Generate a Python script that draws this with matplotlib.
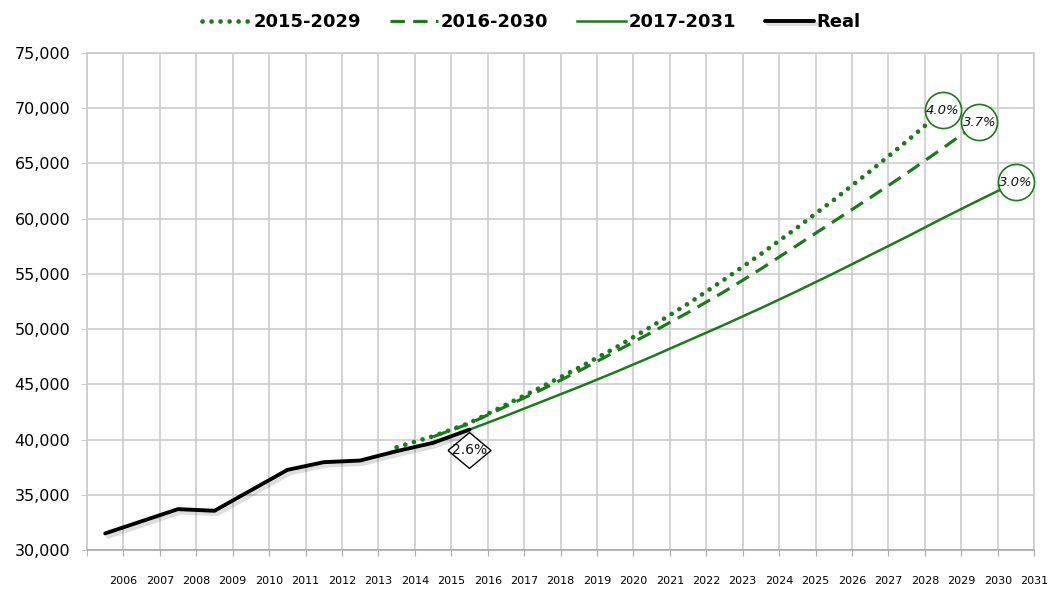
import matplotlib.pyplot as plt
import matplotlib.patheffects as pe
import matplotlib.transforms as mtransforms
import numpy as np

# data
real_years = [2005, 2006, 2007, 2008, 2009, 2010, 2011, 2012, 2013, 2014, 2015]
real_vals = [31500, 32600, 33700, 33550, 35400, 37250, 37950, 38100, 38950, 39700, 40900]

f1_years = list(range(2013, 2029))   # 2015-2029 (4.0%)
f1_vals = [39300, 40300, 41500, 43150, 44800, 46500, 48300, 50250, 52300,
           54500, 56800, 59200, 61700, 64300, 67000, 69800]

f2_years = list(range(2014, 2030))   # 2016-2030 (3.7%)
f2_vals = [40250, 41450, 43000, 44550, 46200, 47950, 49700, 51500, 53400,
           55450, 57600, 59750, 61900, 64100, 66400, 68750]

f3_years = list(range(2015, 2031))   # 2017-2031 (3.0%)
f3_vals = [40900, 42150, 43450, 44750, 46100, 47500, 48950, 50400, 51900,
           53450, 55050, 56700, 58350, 60050, 61700, 63300]

end_labels = ['4.0%', '3.7%', '3.0%']
real_label = '2.6%'
tick_years = list(range(2006, 2032))

green = '#1b7a1b'
grid_c = '#cccccc'

fig = plt.figure(figsize=(10.52, 5.91), dpi=100)
ax = fig.add_axes([0.0827, 0.0694, 0.9003, 0.8409])

off = 0.5  # categories sit between gridlines
x1 = np.array(f1_years) + off
x2 = np.array(f2_years) + off
x3 = np.array(f3_years) + off
xr = np.array(real_years) + off

ax.plot(x1, f1_vals, color=green, lw=3.4, linestyle=(0, (0.01, 1.9)),
        dash_capstyle='round', label='2015-2029', zorder=3)
ax.plot(x2, f2_vals, color=green, lw=2.3, linestyle=(0, (4.5, 2.6)),
        label='2016-2030', zorder=3)
ax.plot(x3, f3_vals, color=green, lw=1.8, label='2017-2031', zorder=3)
ax.plot(xr, real_vals, color='black', lw=2.8, label='Real', zorder=4,
        solid_capstyle='round',
        path_effects=[pe.SimpleLineShadow(offset=(2, -2.5), shadow_color='k', alpha=0.13),
                      pe.Normal()])

# circled growth labels at the end of each projection
for xs, vs, lab in zip([x1, x2, x3], [f1_vals, f2_vals, f3_vals], end_labels):
    ax.plot(xs[-1], vs[-1], marker='o', markersize=26, markerfacecolor='white',
            markeredgecolor=green, markeredgewidth=1.2, zorder=5, clip_on=False)
    ax.text(xs[-1], vs[-1], lab, ha='center', va='center', fontsize=9.5,
            style='italic', color='#111111', zorder=6)

# diamond label under the last real value
diamond = [(-1.2, 0), (0, 1), (1.2, 0), (0, -1), (-1.2, 0)]
shift = mtransforms.offset_copy(ax.transData, fig=fig, x=0, y=-20, units='dots')
ax.plot(xr[-1], real_vals[-1], marker=diamond, markersize=31, markerfacecolor='white',
        markeredgecolor='black', markeredgewidth=1.0, transform=shift, zorder=5)
ax.text(xr[-1], real_vals[-1], real_label, ha='center', va='center', fontsize=10,
        color='#111111', transform=shift, zorder=6)

ax.set_xlim(2005, 2031)
ax.set_ylim(30000, 75000)
ax.set_xticks(tick_years)
ax.set_xticklabels([str(y) for y in tick_years], fontsize=8)
ax.set_xticks(range(2005, 2032), minor=True)
ax.set_yticks(range(30000, 75001, 5000))
ax.set_yticklabels([f'{v:,}' for v in range(30000, 75001, 5000)], fontsize=11.5)

ax.grid(True, which='both', axis='x', color=grid_c, lw=1.2)
ax.grid(True, axis='y', color=grid_c, lw=1.2)
ax.set_axisbelow(True)
ax.tick_params(axis='x', which='both', length=4, color='#a8a8a8', pad=15)
ax.tick_params(axis='y', length=4, color=grid_c, pad=8)
for s in ax.spines.values():
    s.set_color(grid_c)
    s.set_linewidth(1.2)
ax.spines['bottom'].set_color('#a8a8a8')

fig.legend(loc='upper center', bbox_to_anchor=(0.505, 1.005), ncol=4, frameon=False,
           prop={'size': 13, 'weight': 'bold'}, handlelength=2.7, handletextpad=0.15,
           columnspacing=1.6)

fig.savefig('out.png', dpi=100)
